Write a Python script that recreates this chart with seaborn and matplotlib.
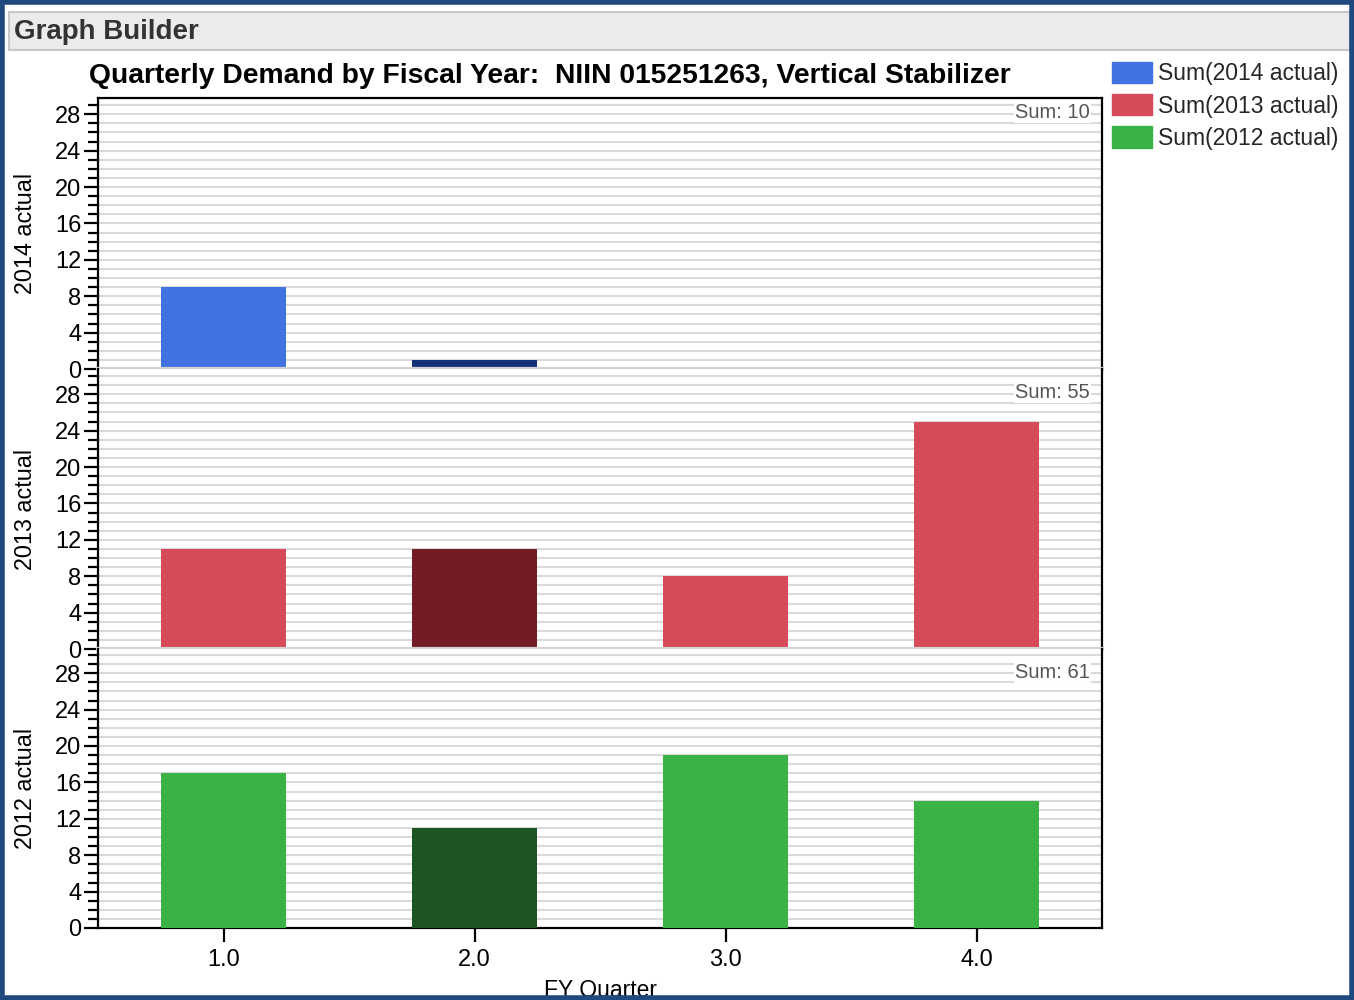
import matplotlib
matplotlib.use("Agg")
import matplotlib.pyplot as plt
import matplotlib.patches as mpatches
from matplotlib.ticker import MultipleLocator
import seaborn as sns

# data
quarters = ["1.0", "2.0", "3.0", "4.0"]
demand_2014 = [9, 1, 0, 0]
demand_2013 = [11, 11, 8, 25]
demand_2012 = [17, 11, 19, 14]
panel_labels = ["2014 actual", "2013 actual", "2012 actual"]
legend_labels = ["Sum(2014 actual)", "Sum(2013 actual)", "Sum(2012 actual)"]

# base colour and the darker "selected" shade for quarter 2
base_cols = ["#4172E0", "#D64A59", "#3AB245"]
dark_cols = ["#14317A", "#731C25", "#1C5523"]

sns.set_theme(style="white")
plt.rcParams["font.family"] = ["Liberation Sans", "DejaVu Sans"]

W, H = 1354, 1000
# panel heights in px, the top one is a little shorter
panel_px = [271, 280, 279]
ytops = [p / 9.1 for p in panel_px]
sum_offset = [14, 23, 23]

fig, axes = plt.subplots(3, 1, sharex=True, figsize=(W / 100, H / 100), dpi=100,
                         gridspec_kw={"height_ratios": panel_px})
fig.subplots_adjust(left=98 / W, right=1102 / W, top=1 - 98 / H,
                    bottom=1 - 928 / H, hspace=0)

series = [demand_2014, demand_2013, demand_2012]
for i, (ax, vals) in enumerate(zip(axes, series)):
    pal = [base_cols[i], dark_cols[i], base_cols[i], base_cols[i]]
    sns.barplot(x=quarters, y=vals, hue=quarters, palette=pal, legend=False,
                width=0.5, saturation=1, linewidth=0, ax=ax, zorder=3)
    ax.set_ylim(0, ytops[i])
    ax.set_xlim(-0.5, 3.5)
    ax.yaxis.set_major_locator(MultipleLocator(4))
    ax.yaxis.set_minor_locator(MultipleLocator(1))
    ax.grid(which="both", axis="y", color="#DADADA", lw=1.5)
    ax.set_axisbelow(True)
    ax.tick_params(axis="y", which="major", left=True, length=10, width=1.6,
                   labelsize=17, pad=2, colors="black")
    ax.tick_params(axis="y", which="minor", left=True, length=7, width=1.6,
                   colors="black")
    ax.tick_params(axis="x", bottom=(i == 2), length=10, width=1.6,
                   labelsize=17, colors="black", pad=5)
    ax.set_ylabel(panel_labels[i], fontsize=16.8, color="black")
    ax.yaxis.set_label_coords(-61 / 1004, 0.5)
    ax.set_xlabel("")
    for s in ["left", "right", "top", "bottom"]:
        ax.spines[s].set_visible(True)
        ax.spines[s].set_color("black")
        ax.spines[s].set_linewidth(1.6)
    if i > 0:
        ax.spines["top"].set_visible(False)
    if i < 2:
        ax.spines["bottom"].set_color("#D4D4D4")
        ax.spines["bottom"].set_linewidth(3)
        ax.spines["bottom"].set_zorder(5)
    ax.text(1 - 12 / 1004, 1 - sum_offset[i] / panel_px[i], f"Sum: {sum(vals)}",
            transform=ax.transAxes, ha="right", va="center", fontsize=14.5,
            color="#555555", bbox=dict(facecolor="white", edgecolor="none", pad=1),
            zorder=6)

fig.text(550 / W, 1 - 76 / H,
         "Quarterly Demand by Fiscal Year:  NIIN 015251263, Vertical Stabilizer",
         ha="center", va="center", fontsize=20.3, fontweight="bold", color="black")
fig.text(601 / W, 1 - 990 / H, "FY Quarter", ha="center", va="center",
         fontsize=16.5, color="black")

# header bar
fig.patches.append(mpatches.Rectangle((9 / W, 1 - 50 / H), 1341 / W, 38 / H,
                                      transform=fig.transFigure, facecolor="#EBEBEB",
                                      edgecolor="#C8C8C8", lw=1.5, zorder=0))
fig.text(14 / W, 1 - 32 / H, "Graph Builder", ha="left", va="center",
         fontsize=20, fontweight="bold", color="#333333")

# legend
handles = [mpatches.Patch(color=c, label=l) for c, l in zip(base_cols, legend_labels)]
fig.legend(handles=handles, loc="upper left", bbox_to_anchor=(1112 / W, 1 - 62 / H),
           frameon=False, fontsize=16.5, handlelength=1.75, handleheight=1.05,
           handletextpad=0.25, labelspacing=0.38, borderaxespad=0, borderpad=0)

# outer frame
fig.patches.append(mpatches.Rectangle((2 / W, 2 / H), 1 - 4 / W, 1 - 4 / H,
                                      transform=fig.transFigure, facecolor="none",
                                      edgecolor="#1F4A80", lw=4, zorder=10))

fig.savefig("out.png", dpi=100)
